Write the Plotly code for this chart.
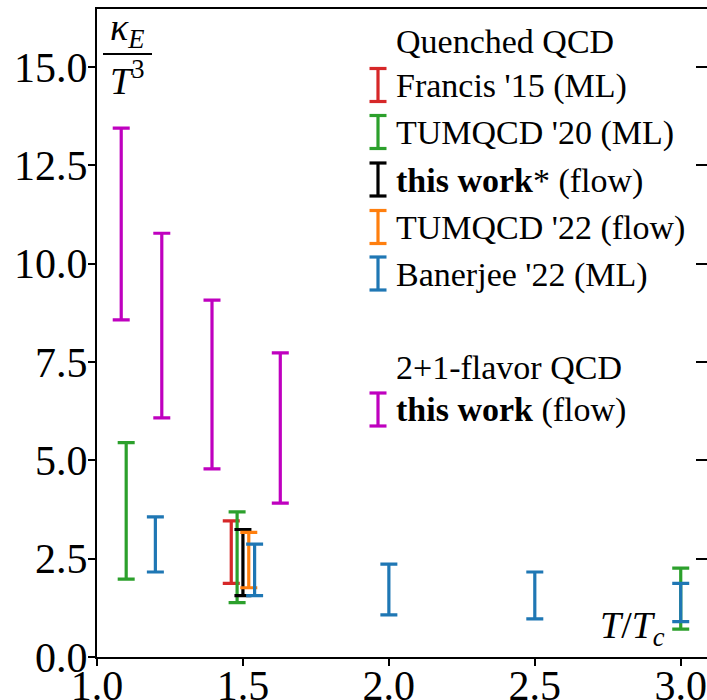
import plotly.graph_objects as go

# ---------------- data ----------------
francis_T = [1.46]
francis_lo = [1.87]
francis_hi = [3.46]

tum20_T = [1.10, 1.48, 3.0]
tum20_lo = [1.98, 1.38, 0.71]
tum20_hi = [5.45, 3.69, 2.26]

thisq_T = [1.50]
thisq_lo = [1.56]
thisq_hi = [3.24]

tum22_T = [1.52]
tum22_lo = [1.76]
tum22_hi = [3.17]

banerjee_T = [1.20, 1.54, 2.0, 2.5, 3.0]
banerjee_lo = [2.16, 1.56, 1.07, 0.97, 0.90]
banerjee_hi = [3.56, 2.87, 2.36, 2.16, 1.87]

this21_T = [1.083, 1.222, 1.394, 1.628]
this21_lo = [8.57, 6.08, 4.78, 3.91]
this21_hi = [13.44, 10.77, 9.07, 7.73]

x_ticks = [1.0, 1.5, 2.0, 2.5, 3.0]
y_ticks = [0.0, 2.5, 5.0, 7.5, 10.0, 12.5, 15.0]

series = [
    ("Francis '15 (ML)", "#d62728", francis_T, francis_lo, francis_hi),
    ("TUMQCD '20 (ML)", "#2ca02c", tum20_T, tum20_lo, tum20_hi),
    ("this work* (flow)", "#000000", thisq_T, thisq_lo, thisq_hi),
    ("TUMQCD '22 (flow)", "#ff7f0e", tum22_T, tum22_lo, tum22_hi),
    ("Banerjee '22 (ML)", "#1f77b4", banerjee_T, banerjee_lo, banerjee_hi),
    ("this work (flow) 2+1", "#bf00bf", this21_T, this21_lo, this21_hi),
]

FONT = "Liberation Serif"
W, H = 707, 700
ML, MR, MT, MB = 97, 0, 9, 43
PW, PH = W - ML - MR, H - MT - MB

fig = go.Figure()
for name, col, T, lo, hi in series:
    mid = [(a + b) / 2 for a, b in zip(lo, hi)]
    half = [(b - a) / 2 for a, b in zip(lo, hi)]
    fig.add_trace(go.Scatter(
        x=T, y=mid, mode="markers", name=name,
        marker=dict(size=1, opacity=0, color=col),
        error_y=dict(type="data", array=half, symmetric=True,
                     color=col, thickness=3.2, width=8.5),
        showlegend=False, hoverinfo="skip",
    ))

# dummy trace for right-side tick axis
fig.add_trace(go.Scatter(x=[1.0], y=[0.0], yaxis="y2", mode="markers",
                         marker=dict(opacity=0), showlegend=False, hoverinfo="skip"))

def px2paper(px, py):
    return (px - ML) / PW, (H - MB - py) / PH

shapes = []
annotations = []

# legend glyphs
legend_rows = [
    (85, "#d62728", "Francis '15 (ML)"),
    (132, "#2ca02c", "TUMQCD '20 (ML)"),
    (179.5, "#000000", "<b>this work</b>* (flow)"),
    (227, "#ff7f0e", "TUMQCD '22 (flow)"),
    (273.5, "#1f77b4", "Banerjee '22 (ML)"),
    (409.5, "#bf00bf", "<b>this work</b> (flow)"),
]
gx, half_w, half_h = 378, 8.5, 16.5
for cy, col, label in legend_rows:
    for (x0, y0, x1, y1) in [(gx, cy - half_h, gx, cy + half_h),
                             (gx - half_w, cy - half_h, gx + half_w, cy - half_h),
                             (gx - half_w, cy + half_h, gx + half_w, cy + half_h)]:
        a0, b0 = px2paper(x0, y0)
        a1, b1 = px2paper(x1, y1)
        shapes.append(dict(type="line", xref="paper", yref="paper",
                           x0=a0, y0=b0, x1=a1, y1=b1,
                           line=dict(color=col, width=3.2)))
    ax, ay = px2paper(394, cy + 1)
    annotations.append(dict(x=ax, y=ay, xref="paper", yref="paper", text=label,
                            showarrow=False, xanchor="left", yanchor="middle",
                            font=dict(family=FONT, size=34, color="black")))

for cy, label in [(40, "Quenched QCD"), (366, "2+1-flavor QCD")]:
    ax, ay = px2paper(394, cy + 1)
    annotations.append(dict(x=ax, y=ay, xref="paper", yref="paper", text=label,
                            showarrow=False, xanchor="left", yanchor="middle",
                            font=dict(family=FONT, size=34, color="black")))

# y label as fraction kappa_E / T^3
ax, ay = px2paper(127, 30)
annotations.append(dict(x=ax, y=ay, xref="paper", yref="paper",
                        text="<i>κ</i><sub><i>E</i></sub>", showarrow=False,
                        xanchor="center", yanchor="middle",
                        font=dict(family=FONT, size=38, color="black")))
a0, b0 = px2paper(103, 54)
a1, b1 = px2paper(152, 54)
shapes.append(dict(type="line", xref="paper", yref="paper", x0=a0, y0=b0, x1=a1, y1=b1,
                   line=dict(color="black", width=2)))
ax, ay = px2paper(127, 78)
annotations.append(dict(x=ax, y=ay, xref="paper", yref="paper",
                        text="<i>T</i><sup>3</sup>", showarrow=False,
                        xanchor="center", yanchor="middle",
                        font=dict(family=FONT, size=38, color="black")))

# x label
ax, ay = px2paper(667, 628)
annotations.append(dict(x=ax, y=ay, xref="paper", yref="paper",
                        text="<i>T</i>/<i>T</i><sub><i>c</i></sub>", showarrow=False,
                        xanchor="right", yanchor="middle",
                        font=dict(family=FONT, size=38, color="black")))

fig.update_layout(
    width=W, height=H,
    margin=dict(l=ML, r=MR, t=MT, b=MB, pad=0, autoexpand=False),
    paper_bgcolor="white", plot_bgcolor="white",
    showlegend=False,
    font=dict(family=FONT, size=42, color="black"),
    xaxis=dict(range=[1.0, 3.09], tickvals=x_ticks,
               ticktext=[f"{v:.1f}" for v in x_ticks],
               ticks="outside", ticklen=7, tickwidth=1.5, tickcolor="black",
               showline=True, linewidth=2, linecolor="black", mirror=True,
               showgrid=False, zeroline=False, automargin=False,
               ticklabelstandoff=-16,
               tickfont=dict(family=FONT, size=42, color="black")),
    yaxis=dict(range=[0, 16.47], tickvals=y_ticks,
               ticktext=[f"{v:.1f}" for v in y_ticks],
               ticks="outside", ticklen=7, tickwidth=1.5, tickcolor="black",
               showline=True, linewidth=2, linecolor="black", mirror=False,
               showgrid=False, zeroline=False, automargin=False,
               ticklabelstandoff=-8,
               tickfont=dict(family=FONT, size=42, color="black")),
    yaxis2=dict(range=[0, 16.47], overlaying="y", side="right",
                tickvals=y_ticks, ticks="inside", ticklen=11, tickwidth=1.5,
                tickcolor="black", showticklabels=False, showline=False,
                showgrid=False, zeroline=False, automargin=False),
    shapes=shapes, annotations=annotations,
)

fig.write_html("out.html")
